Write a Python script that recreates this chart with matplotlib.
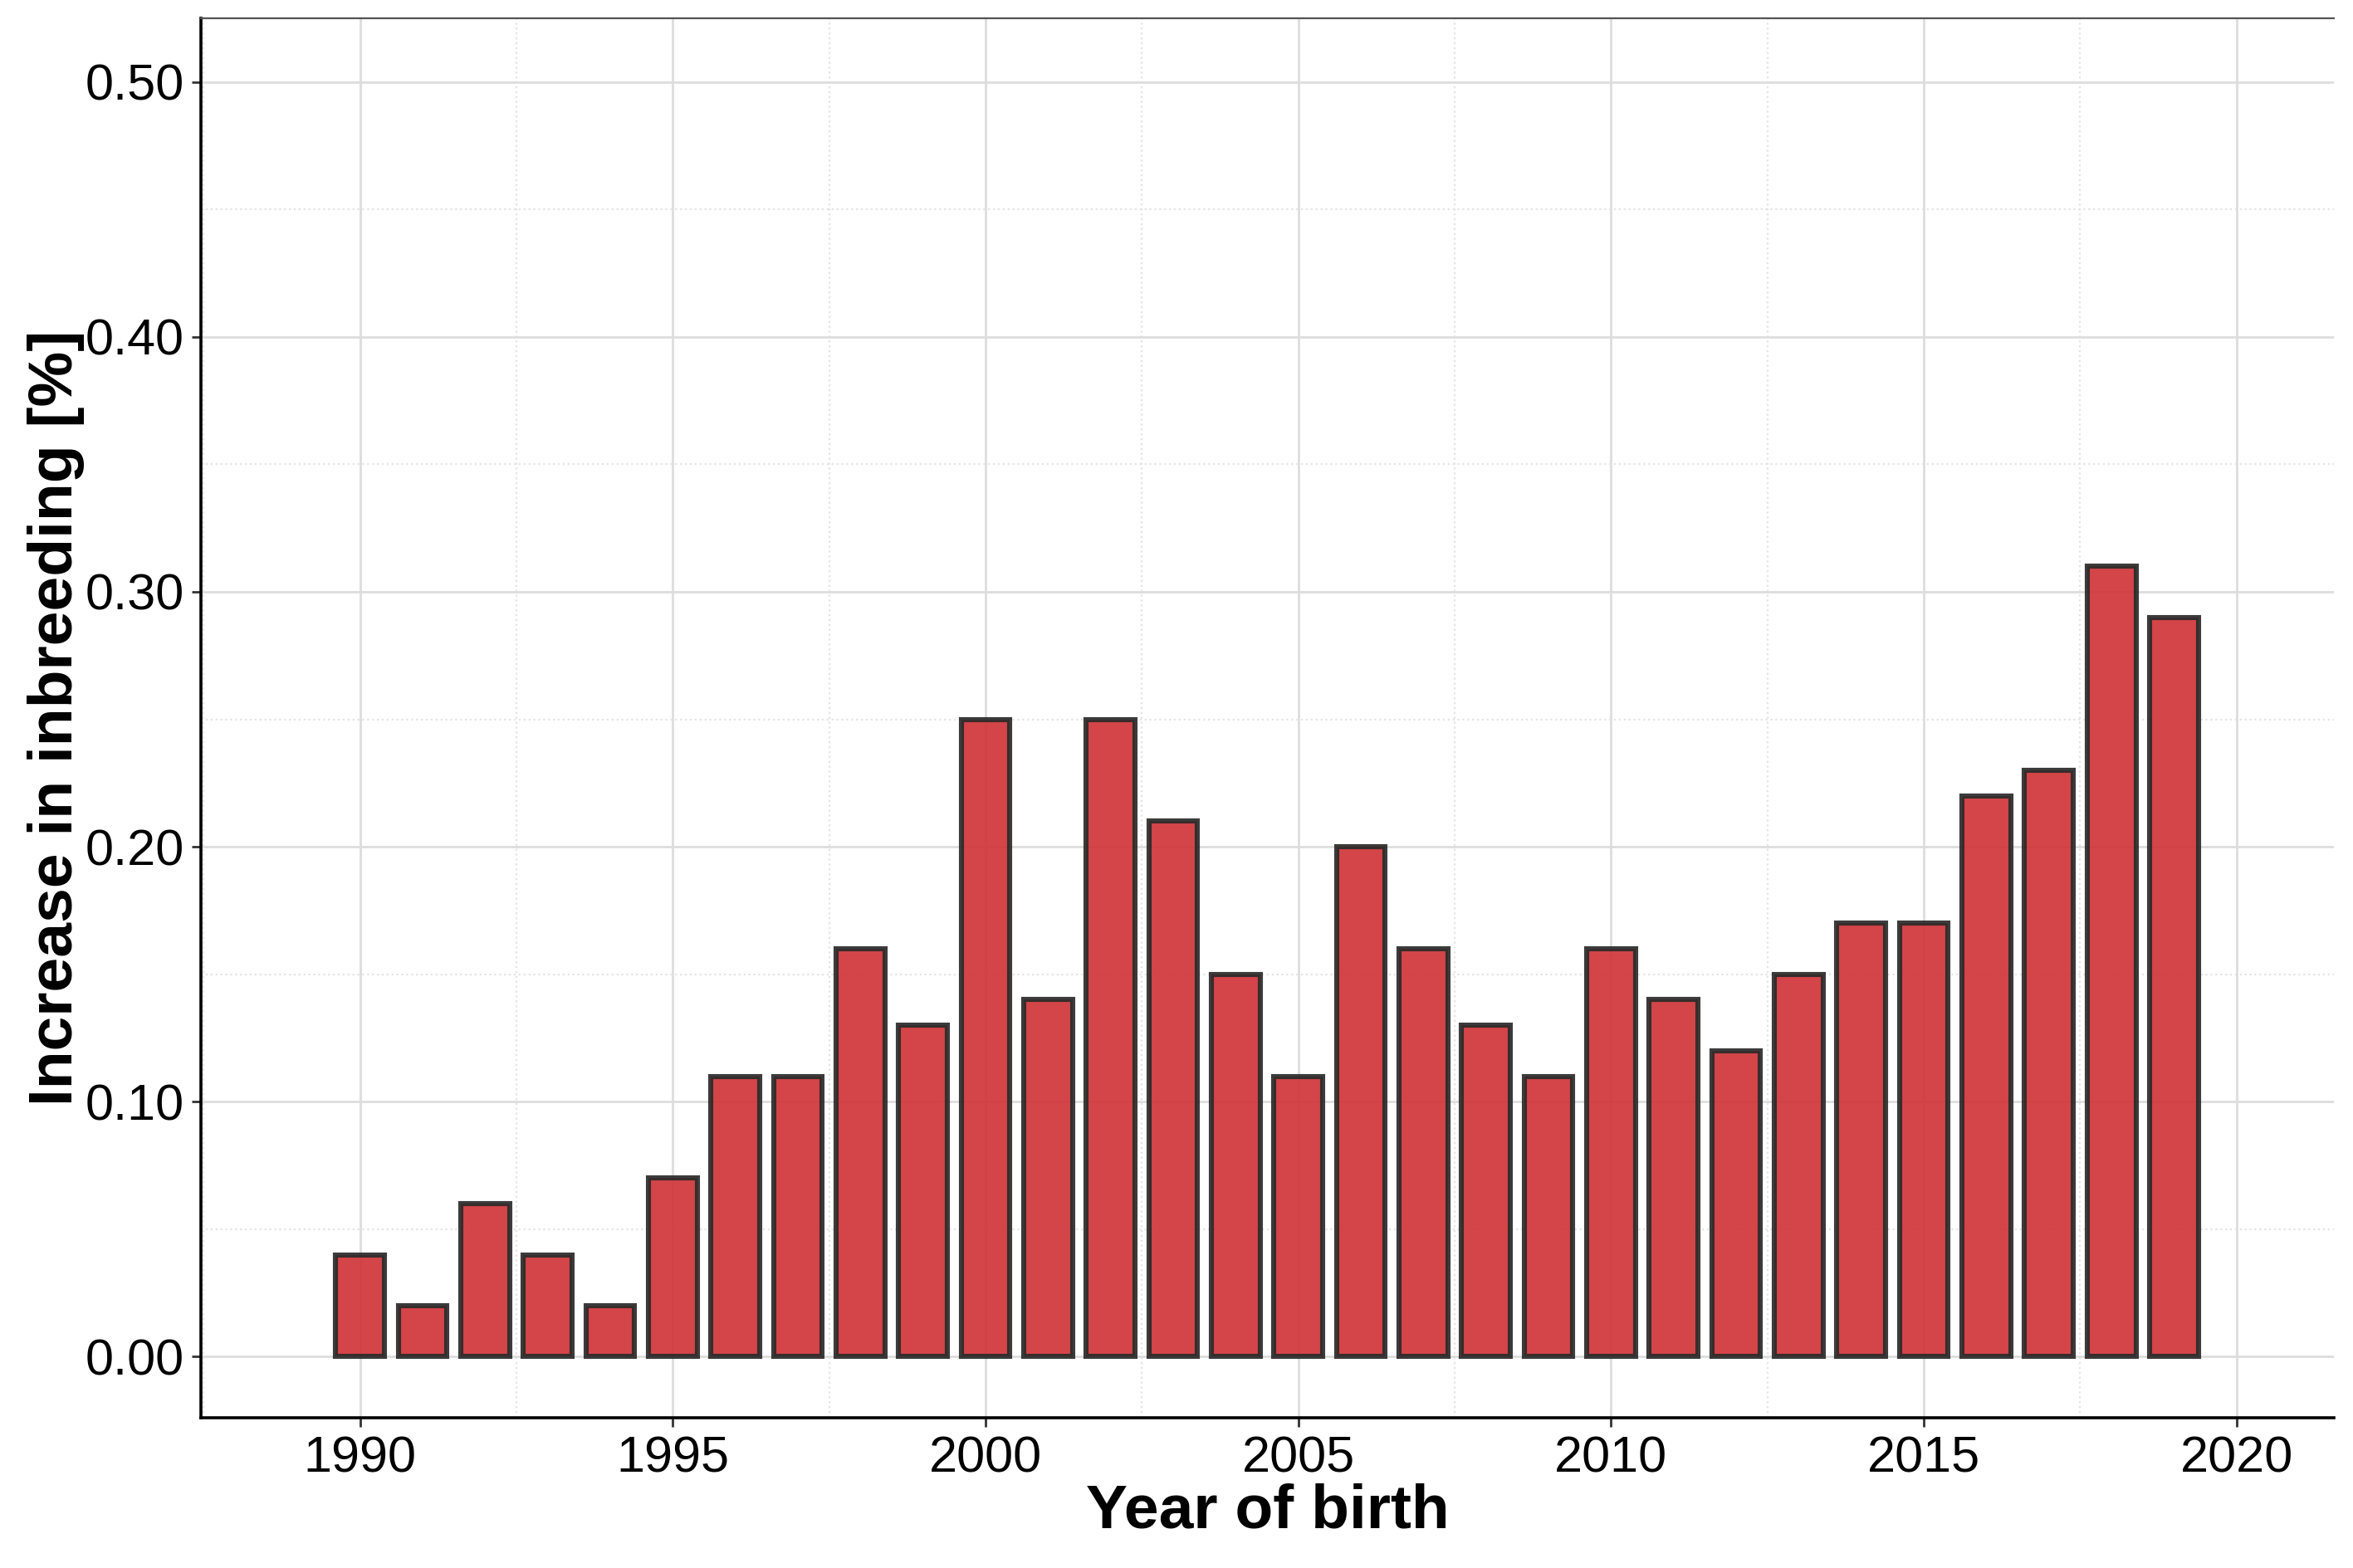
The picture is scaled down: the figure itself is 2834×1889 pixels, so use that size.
import numpy as np
import matplotlib.pyplot as plt
from matplotlib.ticker import MultipleLocator

plt.rcParams['font.family'] = 'Liberation Sans'

years = np.arange(1990, 2020)
increase = [0.04, 0.02, 0.06, 0.04, 0.02, 0.07, 0.11, 0.11, 0.16, 0.13,
            0.25, 0.14, 0.25, 0.21, 0.15, 0.11, 0.20, 0.16, 0.13, 0.11,
            0.16, 0.14, 0.12, 0.15, 0.17, 0.17, 0.22, 0.23, 0.31, 0.29]

fig = plt.figure(figsize=(14.17, 9.445), dpi=200)
ax = fig.add_axes([0.0855, 0.0957, 0.9065, 0.8928])

ax.bar(years, increase, width=0.78, color='#d03538', alpha=0.92,
       edgecolor='#2a2a2a', linewidth=2.2, zorder=3)

ax.set_xlim(1987.46, 2021.56)
ax.set_ylim(-0.024, 0.525)
ax.xaxis.set_major_locator(MultipleLocator(5))
ax.xaxis.set_minor_locator(MultipleLocator(2.5))
ax.yaxis.set_major_locator(MultipleLocator(0.1))
ax.yaxis.set_minor_locator(MultipleLocator(0.05))
ax.yaxis.set_major_formatter(plt.FormatStrFormatter('%.2f'))

ax.grid(which='major', color='#dddddd', linewidth=1.0, zorder=0)
ax.grid(which='minor', color='#e4e4e4', linewidth=0.8, linestyle=':', zorder=0)
ax.set_axisbelow(True)

ax.spines['right'].set_visible(False)
ax.spines['top'].set_linewidth(0.8)
ax.spines['top'].set_color('#555555')
ax.spines['left'].set_linewidth(1.3)
ax.spines['bottom'].set_linewidth(1.3)

ax.tick_params(which='major', labelsize=22, length=4, width=1, color='#333333')
ax.tick_params(which='minor', length=0)

ax.set_xlabel('Year of birth', fontsize=27, fontweight='bold', labelpad=0)
ax.set_ylabel('Increase in inbreeding [%]', fontsize=27, fontweight='bold', labelpad=0)

fig.savefig('out.png', dpi=200)
